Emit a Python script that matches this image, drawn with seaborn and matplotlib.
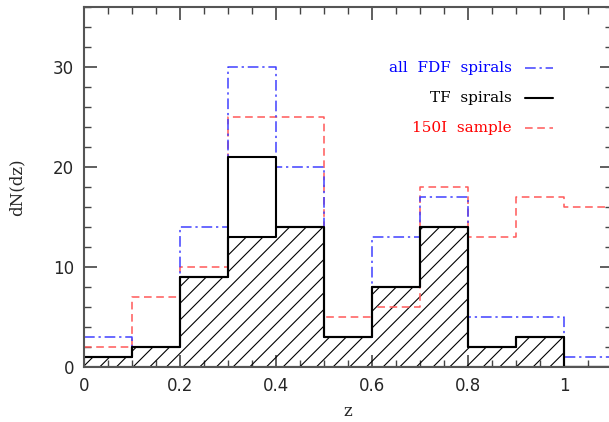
import numpy as np
import pandas as pd
import matplotlib
matplotlib.use("Agg")
import matplotlib.pyplot as plt
import seaborn as sns
from matplotlib.ticker import MultipleLocator, FuncFormatter

# --- data ---
bin_edges = [0.0, 0.1, 0.2, 0.3, 0.4, 0.5, 0.6, 0.7, 0.8, 0.9, 1.0, 1.1]
bin_centers = [0.05, 0.15, 0.25, 0.35, 0.45, 0.55, 0.65, 0.75, 0.85, 0.95, 1.05]
all_fdf = [3, 2, 14, 30, 20, 3, 13, 17, 5, 5, 1]
tf_spirals = [1, 2, 9, 21, 14, 3, 8, 14, 2, 3, 0]
tf_hatched = [1, 2, 9, 13, 14, 3, 8, 14, 2, 3, 0]
sample_150 = [2, 7, 10, 25, 25, 5, 6, 18, 13, 17, 16]
legend_labels = ["all  FDF  spirals", "TF  spirals", "150I  sample"]

df = pd.DataFrame({"z": bin_centers, "fdf": all_fdf, "tf": tf_spirals,
                   "hatch": tf_hatched, "s150": sample_150})

sns.set_style("ticks")
plt.rcParams["font.family"] = ["DejaVu Serif"]
plt.rcParams["hatch.linewidth"] = 0.8

fig = plt.figure(figsize=(6.09, 4.22), dpi=100)
ax = fig.add_axes([84 / 609, 55 / 422, (612 - 84) / 609, (367 - 7) / 422])

blue = (0.25, 0.25, 1.0)
red = (1.0, 0.35, 0.35)

# hatched subsample
n_before = len(ax.collections)
sns.histplot(data=df, x="z", weights="hatch", bins=bin_edges, element="step",
             fill=True, color="black", ax=ax)
for coll in ax.collections[n_before:]:
    coll.set_facecolor("none")
    coll.set_edgecolor("black")
    coll.set_hatch("//")
    coll.set_linewidth(1.5)
    coll.set_alpha(1.0)

sns.histplot(data=df, x="z", weights="s150", bins=bin_edges, element="step",
             fill=False, color=red, linestyle=(0, (5, 3)), linewidth=1.1, ax=ax)
sns.histplot(data=df, x="z", weights="fdf", bins=bin_edges, element="step",
             fill=False, color=blue, linestyle=(0, (7, 2.5, 1.5, 2.5)),
             linewidth=1.1, ax=ax)
sns.histplot(data=df, x="z", weights="tf", bins=bin_edges, element="step",
             fill=False, color="black", linewidth=1.5, ax=ax)

ax.set_xlim(0, 1.1)
ax.set_ylim(0, 36)
ax.set_xlabel("z", fontsize=12, labelpad=6)
ax.set_ylabel("dN(dz)", fontsize=12, labelpad=20)

ax.xaxis.set_major_locator(MultipleLocator(0.2))
ax.xaxis.set_minor_locator(MultipleLocator(0.05))
ax.yaxis.set_major_locator(MultipleLocator(10))
ax.yaxis.set_minor_locator(MultipleLocator(2))
ax.xaxis.set_major_formatter(FuncFormatter(lambda v, p: f"{v:g}"))
ax.tick_params(which="both", direction="in", top=True, right=True,
               labelsize=12, color="#444444")
ax.tick_params(which="major", length=9, width=1.2, pad=7)
ax.tick_params(which="minor", length=5, width=1.0)
for lab in ax.get_xticklabels() + ax.get_yticklabels():
    lab.set_family("DejaVu Sans")
for s in ax.spines.values():
    s.set_color("#555555")
    s.set_linewidth(1.5)

# legend drawn as text + line samples
styles = [dict(color=blue, linestyle=(0, (7, 2.5, 1.5, 2.5)), lw=1.1),
          dict(color="black", linestyle="-", lw=1.5),
          dict(color=red, linestyle=(0, (5, 3)), lw=1.1)]
text_colors = ["blue", "black", "red"]
ys = [68, 98, 128]
for lab, st, tc, yp in zip(legend_labels, styles, text_colors, ys):
    yf = 1 - yp / 422
    fig.text(512 / 609, yf, lab, color=tc, fontsize=11, ha="right", va="center")
    fig.add_artist(plt.Line2D([525 / 609, 553 / 609], [yf, yf],
                              transform=fig.transFigure, **st))

fig.savefig("out.png", dpi=100)
